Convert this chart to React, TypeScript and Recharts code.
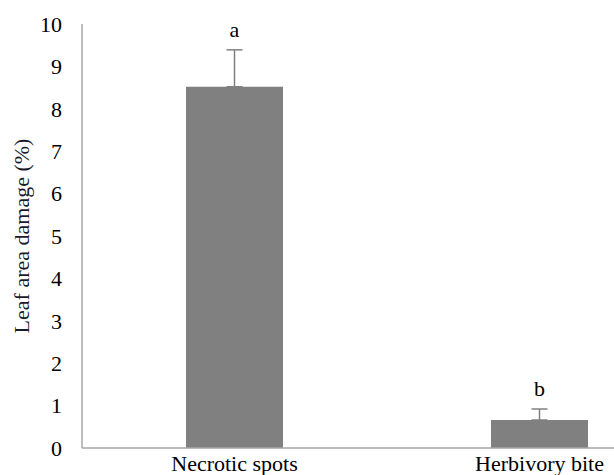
import React from "react";
import { BarChart, Bar, XAxis, YAxis, ErrorBar, LabelList } from "recharts";

const categories = ["Necrotic spots", "Herbivory bite"];
const means = [8.52, 0.66];
const errors = [0.87, 0.26];
const letters = ["a", "b"];
const yTicks = [0, 1, 2, 3, 4, 5, 6, 7, 8, 9, 10];

const data = categories.map((c, i) => ({
  name: c,
  value: means[i],
  err: [0, errors[i]],
  letter: letters[i],
}));

const FONT = "'Liberation Serif', 'Times New Roman', serif";

const LetterLabel = (props: any) => {
  const { x, y, width, height, index } = props;
  const v = means[index];
  const e = errors[index];
  const pxPerUnit = height / v;
  const top = y - e * pxPerUnit;
  return (
    <text
      x={x + width / 2}
      y={top - 13}
      textAnchor="middle"
      fontFamily={FONT}
      fontSize={22}
      fill="#000"
    >
      {letters[index]}
    </text>
  );
};

export default function App() {
  return (
    <div
      style={{
        position: "fixed",
        left: 0,
        top: 0,
        width: 614,
        height: 475,
        overflow: "hidden",
        background: "#fff",
      }}
    >
      <BarChart
        width={700}
        height={475}
        data={data}
        margin={{ top: 24, right: 8, bottom: 0, left: 0 }}
        barSize={97}
      >
        <XAxis
          dataKey="name"
          axisLine={{ stroke: "#a6a6a6", strokeWidth: 1.5 }}
          tickLine={false}
          tickSize={0}
          height={27}
          tick={{ fontFamily: FONT, fontSize: 22, fill: "#000" }}
          tickMargin={7}
        />
        <YAxis
          domain={[0, 10]}
          ticks={yTicks}
          interval={0}
          width={82}
          axisLine={{ stroke: "#a6a6a6", strokeWidth: 1.5 }}
          tickLine={false}
          tickSize={0}
          tickMargin={20}
          tick={{ fontFamily: FONT, fontSize: 22, fill: "#000" }}
          label={{
            value: "Leaf area damage (%)",
            angle: -90,
            position: "center",
            dx: -20,
            style: { fontFamily: FONT, fontSize: 22, fill: "#1a1a2a" },
          }}
        />
        <Bar dataKey="value" fill="#808080" isAnimationActive={false}>
          <ErrorBar
            dataKey="err"
            direction="y"
            width={8}
            stroke="#808080"
            strokeWidth={1.5}
            isAnimationActive={false}
          />
          <LabelList dataKey="letter" content={LetterLabel} />
        </Bar>
      </BarChart>
    </div>
  );
}
